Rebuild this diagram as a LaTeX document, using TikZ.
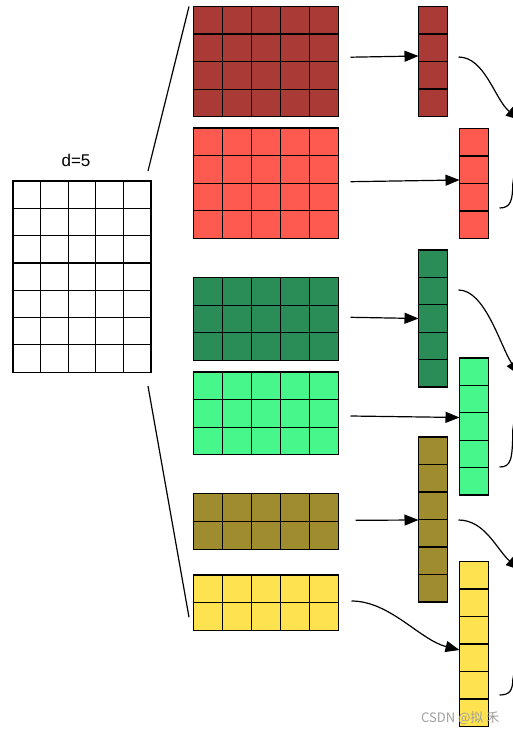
\documentclass[tikz,border=0pt]{standalone}
\usepackage{fontspec}
\setmainfont{Liberation Sans}
\newfontfamily\cjkfont{Noto Sans CJK SC}
\usetikzlibrary{arrows.meta}
\definecolor{cA}{HTML}{AA3A36}
\definecolor{cB}{HTML}{FF5A50}
\definecolor{cC}{HTML}{2A8D57}
\definecolor{cD}{HTML}{47F78C}
\definecolor{cE}{HTML}{9E8C2E}
\definecolor{cF}{HTML}{FFE24F}
\definecolor{wm}{HTML}{A0A0A0}
% name, x, y, cols, rows, cell width, cell height, colour
\newcommand{\gridmat}[8]{%
  \node[cellbox, fill=#8, minimum width=#4*#6pt, minimum height=#5*#7pt] (#1) at (#2,#3) {};
  \ifnum#4>1
    \pgfmathtruncatemacro\gmnc{#4-1}%
    \foreach \i in {1,...,\gmnc} \draw[cellline] (#1.north west) ++(\i*#6,0) -- ++(0,#5*#7);
  \fi
  \ifnum#5>1
    \pgfmathtruncatemacro\gmnr{#5-1}%
    \foreach \j in {1,...,\gmnr} \draw[cellline] (#1.north west) ++(0,\j*#7) -- ++(#4*#6,0);
  \fi
}
\begin{document}
\begin{tikzpicture}[x=1pt,y=-1pt,
  cellbox/.style={draw=black,line width=1.2pt,inner sep=0pt,outer sep=0pt,anchor=north west},
  cellline/.style={black,line width=1.2pt},
  conn/.style={black,line width=1.2pt},
  arr/.style={conn,-{Triangle[length=14pt,width=11pt]}},
  lbl/.style={font=\fontsize{17}{20}\selectfont,inner sep=0pt},
  wmstyle/.style={font=\cjkfont\fontsize{13}{15}\selectfont,text=wm,inner sep=0pt}]
\useasboundingbox (0,0) rectangle (513,733);
\clip (0,0) rectangle (513,733);
\fill[white] (0,0) rectangle (513,733);

% input matrix
\gridmat{L}{13}{181}{5}{7}{27.6}{27.3}{white}
\node[lbl] (d) at (76,160) {d=5};

% head matrices
\gridmat{A}{193.5}{6.5}{5}{4}{29}{27.6}{cA}
\gridmat{B}{193.5}{128}{5}{4}{29}{27.6}{cB}
\gridmat{C}{193.5}{277.5}{5}{3}{29}{27.6}{cC}
\gridmat{D}{193.5}{372}{5}{3}{29}{27.6}{cD}
\gridmat{E}{193.5}{493.5}{5}{2}{29}{27.8}{cE}
\gridmat{F}{193.5}{575}{5}{2}{29}{27.6}{cF}

% vectors
\gridmat{VA}{418.5}{6.5}{1}{4}{29}{27.5}{cA}
\gridmat{VB}{459.5}{128.5}{1}{4}{29}{27.5}{cB}
\gridmat{VC}{418.5}{250}{1}{5}{29}{27.4}{cC}
\gridmat{VD}{459.5}{358}{1}{5}{29}{27.4}{cD}
\gridmat{VE}{418.5}{437}{1}{6}{29}{27.5}{cE}
\gridmat{VF}{459.5}{561.5}{1}{6}{29}{27.5}{cF}

% fan lines
\draw[conn] ([shift={(-3,-10)}]L.north east) -- ([shift={(-4.5,0)}]A.north west);
\draw[conn] ([shift={(-3,14)}]L.south east) -- ([shift={(-4.5,-13)}]F.south west);

% matrix -> vector arrows
\draw[arr] ([shift={(12,-4.5)}]A.east) -- ([yshift=5.5pt]VA.west);
\draw[arr] ([shift={(12,-1.5)}]B.east) -- ([yshift=3.5pt]VB.west);
\draw[arr] ([shift={(12,-1.6)}]C.east) -- (VC.west);
\draw[arr] ([shift={(12,2.6)}]D.east) -- ([yshift=9pt]VD.west);
\draw[arr] ([shift={(17,-1)}]E.east) -- ([yshift=-0.5pt]VE.west);
\draw[arr] ([shift={(13,-1.6)}]F.east) .. controls (390,601) and (420,640) .. ([yshift=-6pt]VF.west);

% outgoing connectors (cut by the right edge)
\coordinate (oA) at (520,120);
\coordinate (oC) at (519,375);
\coordinate (oE) at (520,570);
\coordinate (oB) at (516,160);
\coordinate (oD) at (515.5,410);
\coordinate (oF) at (516,660);
\draw[arr] ([shift={(11,-4.5)}]VA.east) .. controls (485,57) and (495,100) .. (oA);
\draw[arr] ([shift={(11,-28.5)}]VC.east) .. controls (485,290) and (500,345) .. (oC);
\draw[arr] ([shift={(11,0.5)}]VE.east) .. controls (485,520) and (497,550) .. (oE);
\draw[conn] ([shift={(11,24.5)}]VB.east) .. controls (511,208) and (512.5,200) .. (512.8,184) -- (oB);
\draw[conn] ([shift={(11,40.5)}]VD.east) .. controls (511,467) and (512.5,460) .. (512.8,430) -- (oD);
\draw[conn] ([shift={(11,51)}]VF.east) .. controls (510,695) and (512.5,690) .. (512.8,680) -- (oF);

% watermark
\node[wmstyle, anchor=west] (wmk) at (421,718) {CSDN @拟 禾};
\end{tikzpicture}
\end{document}
